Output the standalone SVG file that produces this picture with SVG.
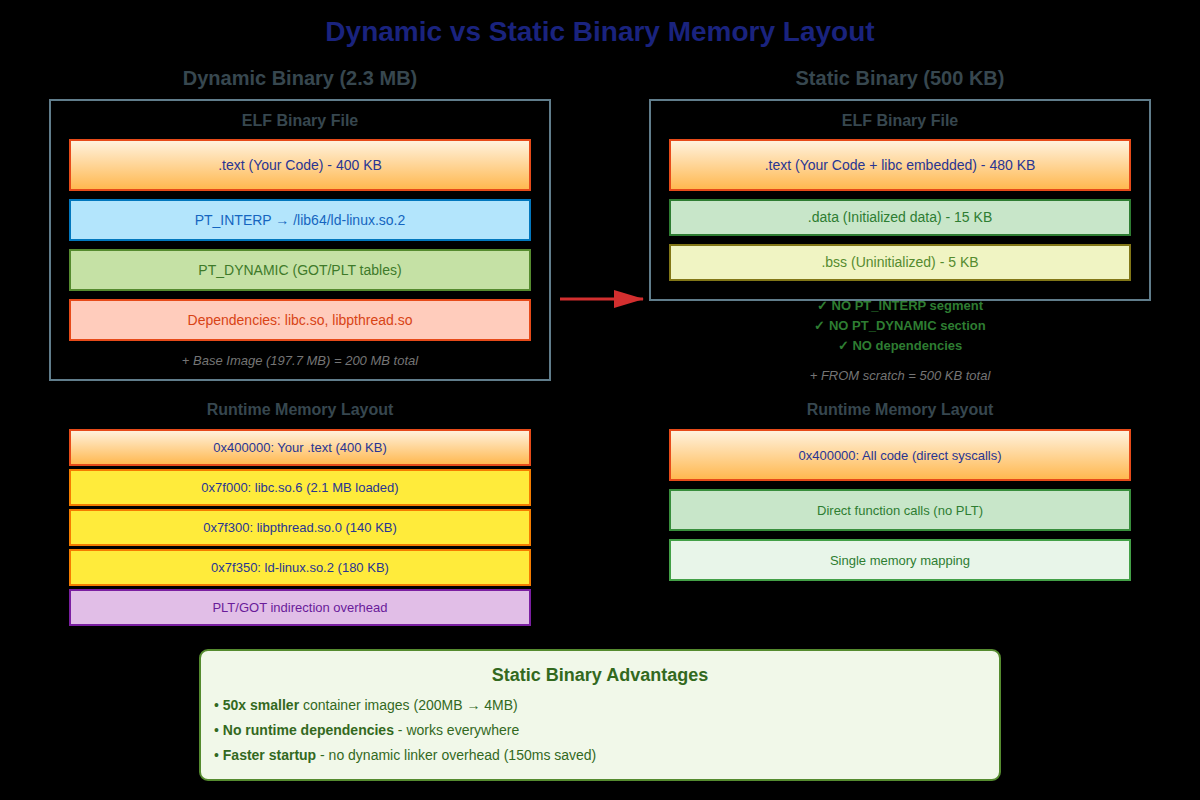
<svg xmlns="http://www.w3.org/2000/svg" width="1200" height="800" viewBox="0 0 1200 800">
<defs>
<linearGradient id="gOrange" x1="0" y1="0" x2="0" y2="1">
<stop offset="0" stop-color="#fff3e0"/><stop offset="1" stop-color="#ffb74d"/>
</linearGradient>
<marker id="arrow" markerWidth="30" markerHeight="18" refX="29" refY="9" orient="auto" markerUnits="userSpaceOnUse">
<path d="M0,0 L30,9 L0,18 z" fill="#d32f2f"/>
</marker>
<style>
text{font-family:"Liberation Sans",Arial,sans-serif;text-anchor:middle}
.title{font-size:28px;font-weight:bold;fill:#1a237e}
.sub{font-size:20px;font-weight:bold;fill:#37474f}
.hdr{font-size:16px;font-weight:bold;fill:#37474f}
.cont{fill:none;stroke:#607d8b;stroke-width:2}
.lbl{font-size:14px}
.lbl13{font-size:13px}
.note{font-size:13px;font-style:italic;fill:#757575}
.ok{font-size:13px;font-weight:bold;fill:#2e7d32}
.orange{fill:url(#gOrange);stroke:#e64a19;stroke-width:2}
.yellow{fill:#ffeb3b;stroke:#f57c00;stroke-width:2}
.navy{fill:#283593}
.adv{font-family:"Liberation Sans Narrow","Liberation Sans",Arial,sans-serif;fill:#33691e}
</style>
</defs>
<rect width="1200" height="800" fill="#000"/>
<text class="title" x="600" y="41">Dynamic vs Static Binary Memory Layout</text>
<text class="sub" x="300" y="85">Dynamic Binary (2.3 MB)</text>
<text class="sub" x="900" y="85">Static Binary (500 KB)</text>

<g id="dyn-container">
<rect class="cont" x="50" y="100" width="500" height="280"/>
<text class="hdr" x="300" y="126">ELF Binary File</text>
</g>
<g id="dyn-text"><rect class="orange" x="70" y="140" width="460" height="50"/><text class="lbl navy" x="300" y="170">.text (Your Code) - 400 KB</text></g>
<g id="dyn-interp"><rect x="70" y="200" width="460" height="40" fill="#b3e5fc" stroke="#0277bd" stroke-width="2"/><text class="lbl" x="300" y="225" fill="#1565c0">PT_INTERP → /lib64/ld-linux.so.2</text></g>
<g id="dyn-dynamic"><rect x="70" y="250" width="460" height="40" fill="#c5e1a5" stroke="#558b2f" stroke-width="2"/><text class="lbl" x="300" y="275" fill="#3e7a2a">PT_DYNAMIC (GOT/PLT tables)</text></g>
<g id="dyn-deps"><rect x="70" y="300" width="460" height="40" fill="#ffccbc" stroke="#e64a19" stroke-width="2"/><text class="lbl" x="300" y="325" fill="#d84315">Dependencies: libc.so, libpthread.so</text></g>
<text class="note" x="300" y="365">+ Base Image (197.7 MB) = 200 MB total</text>

<g id="sta-container">
<rect class="cont" x="650" y="100" width="500" height="200"/>
<text class="hdr" x="900" y="126">ELF Binary File</text>
</g>
<g id="sta-text"><rect class="orange" x="670" y="140" width="460" height="50"/><text class="lbl navy" x="900" y="170">.text (Your Code + libc embedded) - 480 KB</text></g>
<g id="sta-data"><rect x="670" y="200" width="460" height="35" fill="#c8e6c9" stroke="#2e7d32" stroke-width="2"/><text class="lbl" x="900" y="222" fill="#2e7d32">.data (Initialized data) - 15 KB</text></g>
<g id="sta-bss"><rect x="670" y="245" width="460" height="35" fill="#f0f4c3" stroke="#827717" stroke-width="2"/><text class="lbl" x="900" y="267" fill="#558b2f">.bss (Uninitialized) - 5 KB</text></g>
<text class="ok" x="900" y="310">✓ NO PT_INTERP segment</text>
<text class="ok" x="900" y="330">✓ NO PT_DYNAMIC section</text>
<text class="ok" x="900" y="350">✓ NO dependencies</text>
<text class="note" x="900" y="380">+ FROM scratch = 500 KB total</text>

<g id="connectors">
<line x1="560" y1="299" x2="643" y2="299" stroke="#d32f2f" stroke-width="3" marker-end="url(#arrow)"/>
</g>

<text class="hdr" x="300" y="415">Runtime Memory Layout</text>
<text class="hdr" x="900" y="415">Runtime Memory Layout</text>

<g id="rt-text"><rect class="orange" x="70" y="430" width="460" height="35"/><text class="lbl13 navy" x="300" y="452">0x400000: Your .text (400 KB)</text></g>
<g id="rt-libc"><rect class="yellow" x="70" y="470" width="460" height="35"/><text class="lbl13 navy" x="300" y="492">0x7f000: libc.so.6 (2.1 MB loaded)</text></g>
<g id="rt-pthread"><rect class="yellow" x="70" y="510" width="460" height="35"/><text class="lbl13 navy" x="300" y="532">0x7f300: libpthread.so.0 (140 KB)</text></g>
<g id="rt-ld"><rect class="yellow" x="70" y="550" width="460" height="35"/><text class="lbl13 navy" x="300" y="572">0x7f350: ld-linux.so.2 (180 KB)</text></g>
<g id="rt-plt"><rect x="70" y="590" width="460" height="35" fill="#e1bee7" stroke="#7b1fa2" stroke-width="2"/><text class="lbl13" x="300" y="612" fill="#6a1b9a">PLT/GOT indirection overhead</text></g>

<g id="rs-code"><rect class="orange" x="670" y="430" width="460" height="50"/><text class="lbl13 navy" x="900" y="460">0x400000: All code (direct syscalls)</text></g>
<g id="rs-direct"><rect x="670" y="490" width="460" height="40" fill="#c8e6c9" stroke="#388e3c" stroke-width="2"/><text class="lbl13" x="900" y="515" fill="#2e7d32">Direct function calls (no PLT)</text></g>
<g id="rs-single"><rect x="670" y="540" width="460" height="40" fill="#e8f5e9" stroke="#43a047" stroke-width="2"/><text class="lbl13" x="900" y="565" fill="#2e7d32">Single memory mapping</text></g>

<g id="advantages">
<rect x="200" y="650" width="800" height="130" rx="8" fill="#f1f8e9" stroke="#558b2f" stroke-width="2"/>
<text class="adv" x="600" y="681" font-size="18" font-weight="bold">Static Binary Advantages</text>
<text class="adv" x="214" y="710" font-size="14" style="text-anchor:start">• <tspan font-weight="bold">50x smaller</tspan> container images (200MB → 4MB)</text>
<text class="adv" x="214" y="735" font-size="14" style="text-anchor:start">• <tspan font-weight="bold">No runtime dependencies</tspan> - works everywhere</text>
<text class="adv" x="214" y="760" font-size="14" style="text-anchor:start">• <tspan font-weight="bold">Faster startup</tspan> - no dynamic linker overhead (150ms saved)</text>
</g>
</svg>
